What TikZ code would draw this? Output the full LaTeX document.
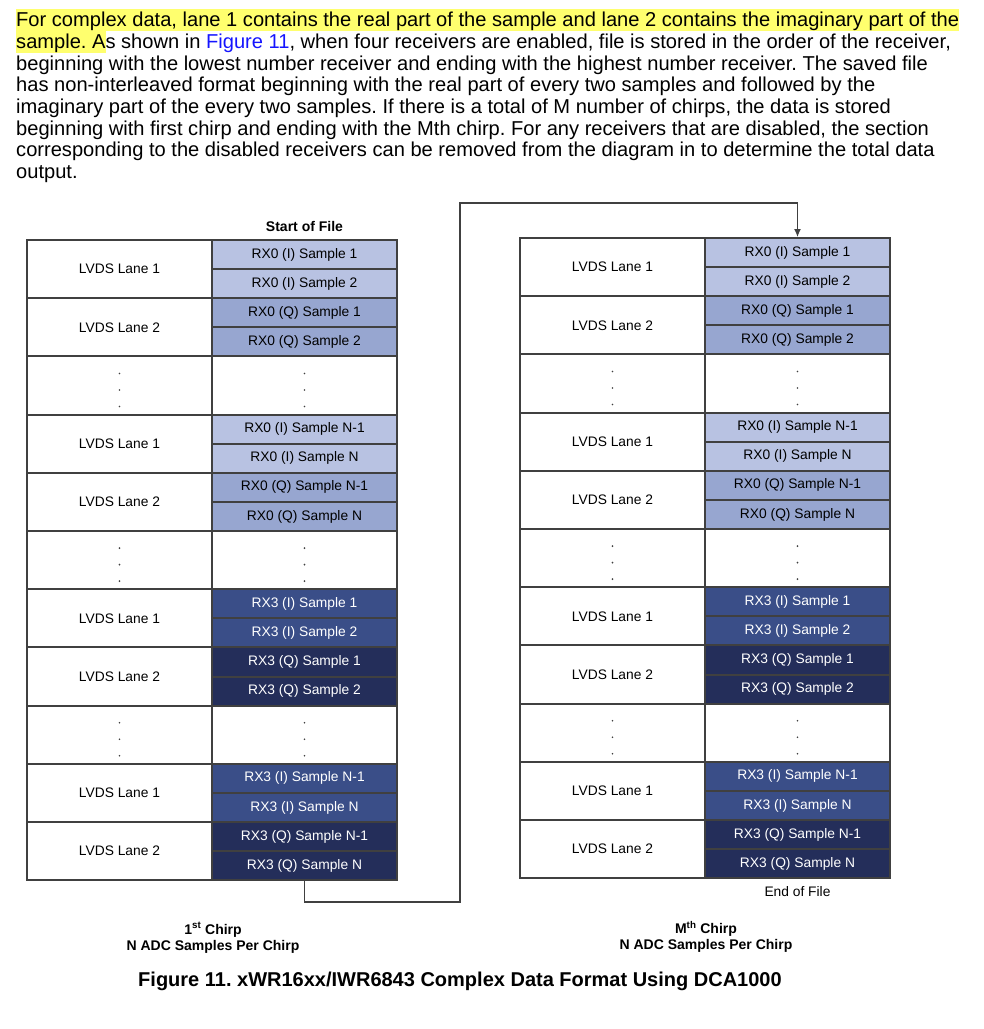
\documentclass[tikz,border=0pt]{standalone}
\usepackage{fontspec}
\setmainfont{Liberation Sans}
\usetikzlibrary{arrows.meta}
\frenchspacing

\definecolor{rxzi}{RGB}{184,194,226}
\definecolor{rxzq}{RGB}{151,166,208}
\definecolor{rxti}{RGB}{58,78,136}
\definecolor{rxtq}{RGB}{36,46,90}
\definecolor{gridgray}{RGB}{64,64,64}
\definecolor{marker}{RGB}{255,255,110}
\definecolor{reflink}{RGB}{20,20,255}

\newcommand{\hlmark}[1]{{\setlength{\fboxsep}{0pt}\colorbox{marker}{\rule[-4pt]{0pt}{21.5pt}#1}}}

\begin{document}
\begin{tikzpicture}[x=1pt, y=-1pt, >={Latex[length=8pt,width=7pt]},
    cell/.style={draw=gridgray, line width=2pt, inner sep=0pt, minimum width=185pt},
    lane/.style={cell, fill=white, minimum height=58.2pt, font=\fontsize{13.8}{16}\selectfont},
    smp/.style={cell, minimum height=29.1pt, font=\fontsize{13.8}{16}\selectfont},
    dotbox/.style={cell, fill=white, minimum height=58.2pt},
    note/.style={font=\fontsize{14}{16.5}\selectfont\bfseries, align=center}]
  \useasboundingbox (0,0) rectangle (984,1029);

  % ==== PARAGRAPH ====
  \node[anchor=north west, align=left, inner sep=0pt, font=\fontsize{20.1}{21.7}\selectfont] (para) at (16,9)
    {\hlmark{For complex data, lane 1 contains the real part of the sample and lane 2 contains the imaginary part of the}\\
     \hlmark{sample. A}s shown in \textcolor{reflink}{Figure 11}, when four receivers are enabled, file is stored in the order of the receiver,\\
     beginning with the lowest number receiver and ending with the highest number receiver. The saved file\\
     has non-interleaved format beginning with the real part of every two samples and followed by the\\
     imaginary part of the every two samples. If there is a total of M number of chirps, the data is stored\\
     beginning with first chirp and ending with the Mth chirp. For any receivers that are disabled, the section\\
     corresponding to the disabled receivers can be removed from the diagram in to determine the total data\\
     output.};

  % ==== CHIRP TABLES ====
  \foreach \t/\x/\y in {A/27/240, B/520/238} {
    \foreach \b/\rx/\ci/\cq/\tc/\sa/\sb/\row in {1/0/rxzi/rxzq/black/1/2/0, 2/0/rxzi/rxzq/black/N-1/N/3,
                                                  3/3/rxti/rxtq/white/1/2/6, 4/3/rxti/rxtq/white/N-1/N/9} {
      \node[lane] (\t-\b-l1) at (\x+92.5, \y+\row*58.2+29.1) {LVDS Lane 1};
      \node[lane] (\t-\b-l2) at (\x+92.5, \y+\row*58.2+87.3) {LVDS Lane 2};
      \node[smp, fill=\ci, text=\tc] (\t-\b-i1) at (\x+277.5, \y+\row*58.2+14.55) {RX\rx~(I) Sample \sa};
      \node[smp, fill=\ci, text=\tc] (\t-\b-i2) at (\x+277.5, \y+\row*58.2+43.65) {RX\rx~(I) Sample \sb};
      \node[smp, fill=\cq, text=\tc] (\t-\b-q1) at (\x+277.5, \y+\row*58.2+72.75) {RX\rx~(Q) Sample \sa};
      \node[smp, fill=\cq, text=\tc] (\t-\b-q2) at (\x+277.5, \y+\row*58.2+101.85) {RX\rx~(Q) Sample \sb};
    }
    % dotted gap rows
    \foreach \row in {2,5,8} {
      \node[dotbox] (\t-d\row-l) at (\x+92.5, \y+\row*58.2+29.1) {};
      \node[dotbox] (\t-d\row-s) at (\x+277.5, \y+\row*58.2+29.1) {};
      \foreach \k in {-12,4.5,21} {
        \fill[gridgray] (\t-d\row-l.center) ++(0,\k) circle (0.9pt);
        \fill[gridgray] (\t-d\row-s.center) ++(0,\k) circle (0.9pt);
      }
    }
  }

  % ==== FILE ORDER ARROW ====
  \coordinate (hopA) at (460,902);
  \coordinate (hopB) at (460,203);
  \draw[->, gridgray, line width=1.2pt] (A-4-q2.south) |- (hopA) -- (hopB) -| (B-1-i1.north);

  % ==== LABELS ====
  \node[note] (sof) at (304.5,226) {Start of File};
  \node[font=\fontsize{13.8}{16}\selectfont] (eof) at (797.5,892) {End of File};
  \node[note] (chirpA) at (213,938) {1\textsuperscript{st} Chirp\\N ADC Samples Per Chirp};
  \node[note] (chirpB) at (706,937) {M\textsuperscript{th} Chirp\\N ADC Samples Per Chirp};
  \node[font=\fontsize{20}{22}\selectfont\bfseries] (caption) at (460,981)
    {Figure 11. xWR16xx/IWR6843 Complex Data Format Using DCA1000};
\end{tikzpicture}
\end{document}
